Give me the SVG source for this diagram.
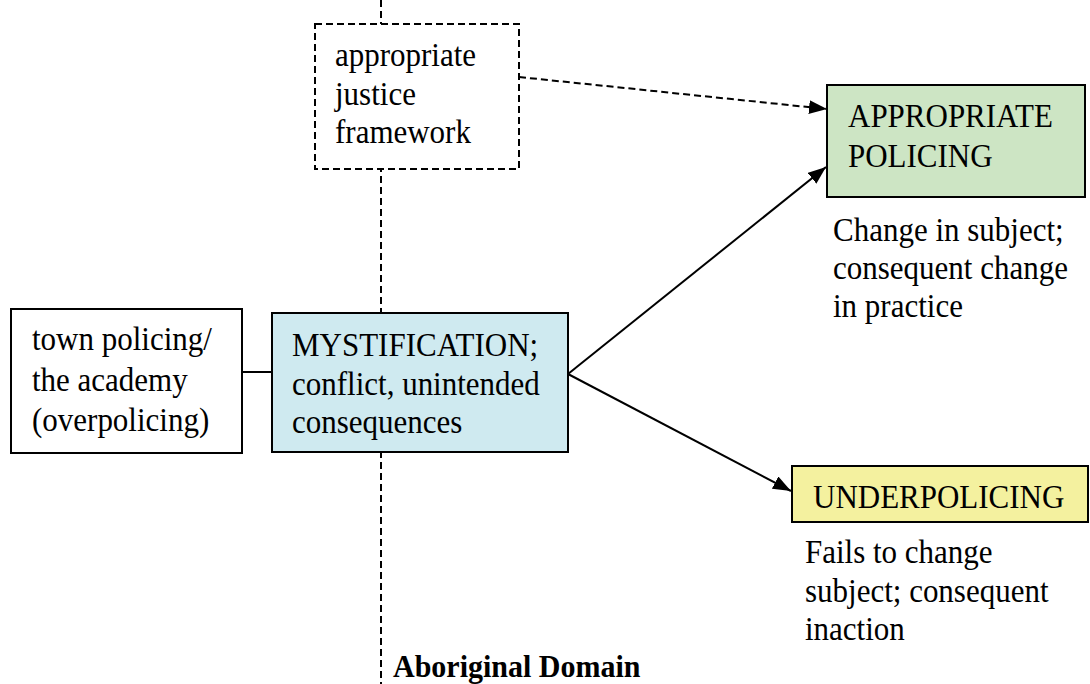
<svg xmlns="http://www.w3.org/2000/svg" width="1090" height="684" viewBox="0 0 1090 684">
<style>
text { font-family: "Liberation Serif", "Times New Roman", serif; font-size: 31px; fill: #000; }
.box { stroke: #000; stroke-width: 2; }
.dash { stroke: #000; stroke-width: 2; stroke-dasharray: 7 4; fill: none; }
.line { stroke: #000; stroke-width: 2; fill: none; }
</style>
<defs>
<marker id="ah" viewBox="0 0 18 14" refX="18" refY="7" markerWidth="18" markerHeight="14" markerUnits="userSpaceOnUse" orient="auto">
<path d="M0,0 L18,7 L0,14 z" fill="#000"/>
</marker>
</defs>
<rect width="1090" height="684" fill="#fff"/>
<g id="domain-line">
<line class="dash" x1="381" y1="0" x2="381" y2="684"/>
</g>
<g id="connectors">
<line class="line" x1="242" y1="372" x2="272" y2="372"/>
<line class="dash" x1="519" y1="77" x2="827" y2="109" marker-end="url(#ah)"/>
<line class="line" x1="568" y1="374" x2="826" y2="167" marker-end="url(#ah)"/>
<line class="line" x1="568" y1="374" x2="791" y2="491" marker-end="url(#ah)"/>
</g>
<g id="justice">
<rect class="dash" x="315" y="24" width="204" height="145" style="fill:#fff"/>
<text transform="translate(335,66) scale(1,1.08)">appropriate</text>
<text transform="translate(335,105) scale(1,1.08)">justice</text>
<text transform="translate(335,143) scale(1,1.08)">framework</text>
</g>
<g id="town">
<rect class="box" x="11" y="309" width="231" height="144" fill="#fff"/>
<text transform="translate(32,350) scale(1,1.08)">town policing/</text>
<text transform="translate(32,391) scale(1,1.08)">the academy</text>
<text transform="translate(32,431) scale(1,1.08)">(overpolicing)</text>
</g>
<g id="mystification">
<rect class="box" x="272" y="313" width="296" height="139" fill="#cfeaf0"/>
<text transform="translate(292,356) scale(1,1.08)">MYSTIFICATION;</text>
<text transform="translate(292,395) scale(1,1.08)">conflict, unintended</text>
<text transform="translate(292,433) scale(1,1.08)">consequences</text>
</g>
<g id="appropriate">
<rect class="box" x="827" y="85" width="258" height="112" fill="#cde5c4"/>
<text transform="translate(848,127) scale(1,1.08)">APPROPRIATE</text>
<text transform="translate(848,167) scale(1,1.08)">POLICING</text>
<text transform="translate(833,241) scale(1,1.08)">Change in subject;</text>
<text transform="translate(833,279) scale(1,1.08)">consequent change</text>
<text transform="translate(833,317) scale(1,1.08)">in practice</text>
</g>
<g id="underpolicing">
<rect class="box" x="792" y="466" width="296" height="56" fill="#f4f19f"/>
<text transform="translate(813,508) scale(1,1.08)">UNDERPOLICING</text>
<text transform="translate(805,563) scale(1,1.08)">Fails to change</text>
<text transform="translate(805,602) scale(1,1.08)">subject; consequent</text>
<text transform="translate(805,640) scale(1,1.08)">inaction</text>
</g>
<g id="domain-label">
<text transform="translate(393,677) scale(1,1.08)" style="font-weight:bold;font-size:30px">Aboriginal Domain</text>
</g>
</svg>
